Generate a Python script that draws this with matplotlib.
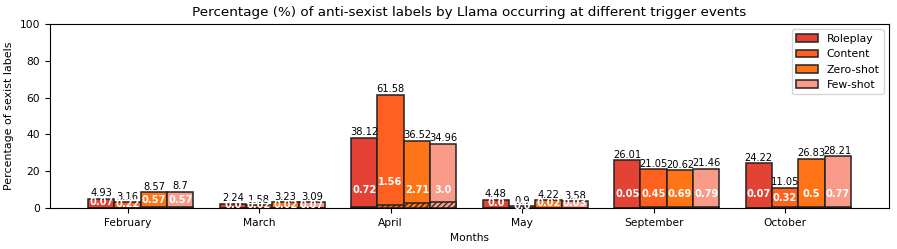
import numpy as np
import matplotlib
matplotlib.use('Agg')
import matplotlib.pyplot as plt

plt.rcParams['font.size'] = 7.7
plt.rcParams['hatch.linewidth'] = 0.9

# data
months = ['February', 'March', 'April', 'May', 'September', 'October']
methods = ['Roleplay', 'Content', 'Zero-shot', 'Few-shot']
colors = ['#e34234', '#ff5f1f', '#ff7417', '#f99b88']

# percentage of sexist labels (bar heights)
roleplay = [4.93, 2.24, 38.12, 4.48, 26.01, 24.22]
content = [3.16, 1.58, 61.58, 0.9, 21.05, 11.05]
zeroshot = [8.57, 3.23, 36.52, 4.22, 20.62, 26.83]
fewshot = [8.7, 3.09, 34.96, 3.58, 21.46, 28.21]

# percentage of anti-sexist labels (hatched part)
roleplay_anti = [0.07, 0.0, 0.72, 0.0, 0.05, 0.07]
content_anti = [0.22, 0.02, 1.56, 0.0, 0.45, 0.32]
zeroshot_anti = [0.57, 0.02, 2.71, 0.02, 0.69, 0.5]
fewshot_anti = [0.57, 0.07, 3.0, 0.03, 0.79, 0.77]

# where the white anti-sexist numbers sit
roleplay_lab_y = [3.0, 1.6, 9.8, 2.8, 7.4, 7.4]
content_lab_y = [2.4, 1.4, 14.3, 1.2, 7.4, 5.3]
zeroshot_lab_y = [4.4, 1.8, 9.8, 2.8, 7.4, 7.4]
fewshot_lab_y = [4.4, 1.8, 9.8, 2.8, 7.4, 7.4]

totals = [roleplay, content, zeroshot, fewshot]
antis = [roleplay_anti, content_anti, zeroshot_anti, fewshot_anti]
lab_ys = [roleplay_lab_y, content_lab_y, zeroshot_lab_y, fewshot_lab_y]

x = np.arange(len(months))
w = 0.2

fig = plt.figure(figsize=(8.97, 2.49), dpi=100)
ax = fig.add_axes([50/897, 1-208/249, 839/897, 184/249])

for i in range(4):
    xi = x + (i-1)*w
    ax.bar(xi, totals[i], w, color=colors[i], edgecolor='#222222',
           linewidth=1.1, label=methods[i])
    ax.bar(xi, antis[i], w, color=colors[i], edgecolor='#222222',
           linewidth=1.1, hatch='//////')
    for j in range(len(months)):
        ax.text(xi[j], totals[i][j]+0.3, str(totals[i][j]), ha='center',
                va='bottom', color='black', fontsize=7.1)
        ax.text(xi[j], lab_ys[i][j], str(antis[i][j]), ha='center',
                va='center', color='white', fontweight='bold', fontsize=7.1)

ax.set_ylim(0, 100)
ax.set_xticks(x)
ax.set_xticklabels(months)
ax.set_xlabel('Months')
ax.set_ylabel('Percentage of sexist labels', fontsize=7.9)
ax.set_title('Percentage (%) of anti-sexist labels by Llama occurring at different trigger events',
             fontsize=9.7)
ax.legend(loc='upper right', fontsize=7.8)

fig.savefig('out.png', dpi=100)
